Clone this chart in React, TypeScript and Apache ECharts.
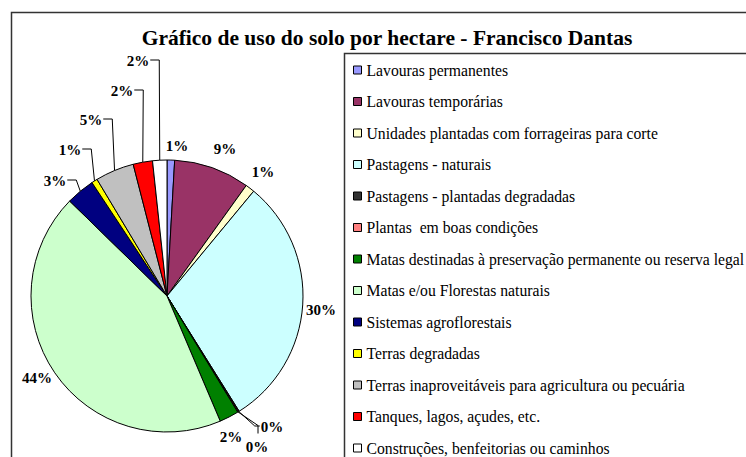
import React, { useEffect, useRef } from "react";
import * as echarts from "echarts";

const titleText = "Gráfico de uso do solo por hectare - Francisco Dantas";

const categories = [
  "Lavouras permanentes",
  "Lavouras temporárias",
  "Unidades plantadas com forrageiras para corte",
  "Pastagens - naturais",
  "Pastagens - plantadas degradadas",
  "Plantas  em boas condições",
  "Matas destinadas à preservação permanente ou reserva legal",
  "Matas e/ou Florestas naturais",
  "Sistemas agroflorestais",
  "Terras degradadas",
  "Terras inaproveitáveis para agricultura ou pecuária",
  "Tanques, lagos, açudes, etc.",
  "Construções, benfeitorias ou caminhos",
];

const shares = [0.9, 9.0, 1.1, 30.1, 0.1, 0.1, 2.3, 43.7, 3.4, 0.7, 4.6, 2.3, 1.7];

const colors = [
  "#9999FF",
  "#993366",
  "#FFFFCC",
  "#CCFFFF",
  "#333333",
  "#FF8080",
  "#008000",
  "#CCFFCC",
  "#000080",
  "#FFFF00",
  "#C0C0C0",
  "#FF0000",
  "#FFFFFF",
];

// layout (label anchor centres, as placed in the reference)
const labelPos: [number, number][] = [
  [177, 146],
  [225, 149],
  [263, 172],
  [321, 310],
  [272, 427],
  [257, 447],
  [231, 437],
  [37, 378],
  [55, 181],
  [70, 150],
  [91, 120],
  [122, 91],
  [138, 61],
];
const leaderLeft = [8, 9, 10, 11, 12];

const FONT = "Liberation Serif";
const CX = 167;
const CY = 296;
const R = 136;

export default function App() {
  const ref = useRef<HTMLDivElement>(null);
  useEffect(() => {
    document.body.style.margin = "0";
    if (!ref.current) return;
    const chart = echarts.init(ref.current, undefined, { renderer: "svg" });
    const total = shares.reduce((a, b) => a + b, 0);
    const edgePoint = (i: number): [number, number] => {
      let cum = 0;
      for (let k = 0; k < i; k++) cum += shares[k];
      const th = (2 * Math.PI * (cum + shares[i] / 2)) / total;
      return [CX + R * Math.sin(th), CY - R * Math.cos(th)];
    };
    chart.setOption({
      animation: false,
      backgroundColor: "#ffffff",
      textStyle: { fontFamily: FONT },
      title: {
        text: titleText,
        left: 382,
        top: 22,
        textAlign: "center",
        textStyle: {
          fontFamily: FONT,
          fontWeight: "bold",
          fontSize: 21.5,
          color: "#000",
        },
      },
      graphic: [
        {
          type: "rect",
          shape: { x: 11.5, y: 12.5, width: 800, height: 500 },
          style: { fill: "none", stroke: "#333", lineWidth: 1.5 },
          silent: true,
        },
        {
          type: "rect",
          shape: { x: 344.5, y: 53.5, width: 500, height: 500 },
          style: { fill: "none", stroke: "#333", lineWidth: 1.5 },
          silent: true,
        },
      ],
      legend: {
        orient: "vertical",
        left: 353,
        top: 62,
        height: 700,
        itemWidth: 8,
        itemHeight: 8,
        itemGap: 15.5,
        icon: "rect",
        padding: 0,
        itemStyle: { borderColor: "#000", borderWidth: 1 },
        textStyle: {
          fontFamily: FONT,
          fontSize: 15.7,
          color: "#000",
          lineHeight: 16,
        },
        data: categories,
      },
      series: [
        {
          type: "pie",
          center: [CX, CY],
          radius: R,
          startAngle: 90,
          clockwise: true,
          avoidLabelOverlap: false,
          data: categories.map((c, i) => ({
            name: c,
            value: shares[i],
            itemStyle: { color: colors[i] },
            labelLine: { show: leaderLeft.includes(i) || i === 4 || i === 5 },
          })),
          itemStyle: { borderColor: "#000", borderWidth: 1 },
          label: {
            show: true,
            position: "outside",
            overflow: "none",
            formatter: (p: any) => Math.round((p.value / total) * 100) + "%",
            fontFamily: FONT,
            fontWeight: "bold",
            fontSize: 15,
            color: "#000",
          },
          labelLine: {
            show: true,
            length: 8,
            length2: 6,
            lineStyle: { color: "#000", width: 1 },
          },
          labelLayout: (p: any) => {
            const i = p.dataIndex;
            const [x, y] = labelPos[i];
            const w = p.labelRect.width;
            const h = p.labelRect.height;
            const e = edgePoint(i);
            const out: any = { x, y, align: "center", verticalAlign: "middle" };
            if (leaderLeft.includes(i)) {
              const right = x + w / 2;
              out.labelLinePoints = [e, [right + 10, y - 1], [right + 1, y - 1]];
            } else if (i === 4) {
              const left = x - w / 2;
              out.labelLinePoints = [e, [left - 6, y - 1], [left - 1, y - 1]];
            } else if (i === 5) {
              const top = y - h / 2;
              out.labelLinePoints = [e, [x + 1, top - 14], [x + 1, top - 6]];
            }
            return out;
          },
          emphasis: { disabled: true },
        },
      ],
    });
    return () => chart.dispose();
  }, []);
  return (
    <div
      ref={ref}
      style={{ position: "absolute", left: 0, top: 0, width: 746, height: 457 }}
    />
  );
}
